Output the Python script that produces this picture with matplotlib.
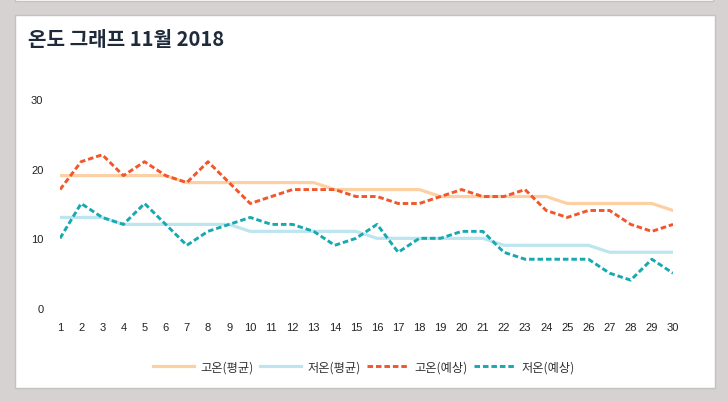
import matplotlib

matplotlib.use("Agg")
import matplotlib.pyplot as plt
from matplotlib.patches import Rectangle

plt.rcParams["font.family"] = ["Noto Sans CJK KR", "DejaVu Sans"]

# --- data ---
days = list(range(1, 31))
high_avg = [19, 19, 19, 19, 19, 19, 18, 18, 18, 18, 18, 18, 18, 17, 17,
            17, 17, 17, 16, 16, 16, 16, 16, 16, 15, 15, 15, 15, 15, 14]
low_avg = [13, 13, 13, 12, 12, 12, 12, 12, 12, 11, 11, 11, 11, 11, 11,
           10, 10, 10, 10, 10, 10, 9, 9, 9, 9, 9, 8, 8, 8, 8]
high_fc = [17, 21, 22, 19, 21, 19, 18, 21, 18, 15, 16, 17, 17, 17, 16,
           16, 15, 15, 16, 17, 16, 16, 17, 14, 13, 14, 14, 12, 11, 12]
low_fc = [10, 15, 13, 12, 15, 12, 9, 11, 12, 13, 12, 12, 11, 9, 10,
          12, 8, 10, 10, 11, 11, 8, 7, 7, 7, 7, 5, 4, 7, 5]
yticks = [0, 10, 20, 30]
labels = ["고온(평균)", "저온(평균)", "고온(예상)", "저온(예상)"]

BG = "#d6d2d1"
CARD = "#ffffff"
INK = "#1f2b3a"
C_HA = "#fdd0a4"
C_LA = "#bde5ef"
C_HF = "#f2562a"
C_LF = "#17a9b0"
DASH = (0, (1.9, 1.0))

W, H = 728, 402
fig = plt.figure(figsize=(W / 100, H / 100), dpi=100)
fig.patch.set_facecolor(BG)


def px(x0, y0, w, h):
    # pixel box (top-left origin) -> figure fraction
    return [x0 / W, 1 - (y0 + h) / H, w / W, h / H]


# cards (behind the axes)
fig.patches.append(Rectangle((15 / W, 1 - 2 / H), 698 / W, 10 / H, transform=fig.transFigure,
                             facecolor=CARD, edgecolor="#c4c1c0", lw=1.0, zorder=-2))
fig.patches.append(Rectangle((15 / W, 1 - 389 / H), 700 / W, 373 / H, transform=fig.transFigure,
                             facecolor=CARD, edgecolor="#c4c1c0", lw=1.0, zorder=-2))

fig.text(28 / W, 1 - 40 / H, "온도 그래프 11월 2018", fontsize=14.5, fontweight="bold",
         color=INK, ha="left", va="center")

ax = fig.add_axes(px(60, 100, 613, 209))
ax.set_facecolor("none")
l1, = ax.plot(days, high_avg, color=C_HA, lw=2.3)
l2, = ax.plot(days, low_avg, color=C_LA, lw=2.3)
l3, = ax.plot(days, high_fc, color=C_HF, lw=2.1, ls=DASH)
l4, = ax.plot(days, low_fc, color=C_LF, lw=2.1, ls=DASH)

ax.set_xlim(1, 30)
ax.set_ylim(0, 30)
ax.set_xticks(days)
ax.set_xticklabels([str(d) for d in days], family="Liberation Sans")
ax.set_yticks(yticks)
ax.set_yticklabels([str(v) for v in yticks], family="Liberation Sans")
ax.tick_params(axis="x", length=0, pad=10, labelsize=8, labelcolor="#222222")
ax.tick_params(axis="y", length=0, pad=12, labelsize=8, labelcolor="#222222")
for s in ax.spines.values():
    s.set_visible(False)

fig.legend([l1, l2, l3, l4], labels, loc="center", bbox_to_anchor=(364 / W, 1 - 368 / H),
           ncol=4, frameon=False, fontsize=8.8, handlelength=3.3, handletextpad=0.55,
           columnspacing=0.55, labelcolor="#333333")

fig.savefig("out.png", dpi=100, facecolor=BG)
